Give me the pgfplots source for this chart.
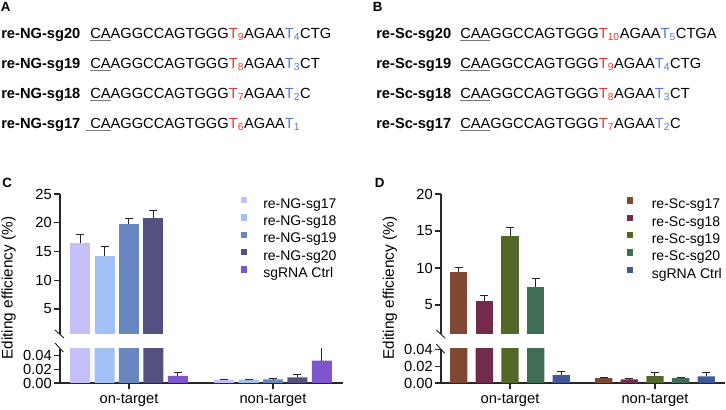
\documentclass[border=0pt]{standalone}
\usepackage{fontspec}
\setmainfont{Liberation Sans}
\usepackage{pgfplots}
\pgfplotsset{compat=1.18}
\usepackage{pgfplotstable}

\definecolor{tred}{RGB}{222,58,58}
\definecolor{tblue}{RGB}{88,120,205}
\definecolor{ulgray}{RGB}{120,120,120}
\definecolor{cA}{RGB}{197,192,247}
\definecolor{cB}{RGB}{160,192,246}
\definecolor{cC}{RGB}{104,134,191}
\definecolor{cD}{RGB}{85,80,130}
\definecolor{cE}{RGB}{125,85,205}
\definecolor{dA}{RGB}{126,72,50}
\definecolor{dB}{RGB}{116,42,76}
\definecolor{dC}{RGB}{82,103,40}
\definecolor{dD}{RGB}{62,111,86}
\definecolor{dE}{RGB}{65,87,152}

\newcommand\Tr[1]{\textcolor{tred}{T\textsubscript{#1}}}
\newcommand\Tb[1]{\textcolor{tblue}{T\textsubscript{#1}}}
\newcommand\ul[1]{\setbox0\hbox{#1}\rlap{\textcolor{ulgray}{\rule[-2.3pt]{\wd0}{1.1pt}}}\box0}

% Panel C data
\pgfplotstableread{
x y e
-0.34 16.4 1.5
0.66 0.0048 0.0010
}\Ca
\pgfplotstableread{
x y e
-0.17 14.3 1.5
0.83 0.0048 0.0010
}\Cb
\pgfplotstableread{
x y e
0.00 19.7 1.0
1.00 0.0053 0.0008
}\Cc
\pgfplotstableread{
x y e
0.17 20.8 1.4
1.17 0.0082 0.0040
}\Cd
\pgfplotstableread{
x y e
0.34 0.0106 0.0050
1.34 0.0328 0.0200
}\Ce
% Panel D data
\pgfplotstableread{
x y e
-0.354 9.46 0.65
0.646 0.0060 0.0005
}\Da
\pgfplotstableread{
x y e
-0.177 5.59 0.70
0.823 0.0044 0.0005
}\Db
\pgfplotstableread{
x y e
0.000 14.3 1.2
1.000 0.0084 0.0048
}\Dc
\pgfplotstableread{
x y e
0.177 7.48 1.1
1.177 0.0060 0.0012
}\Dd
\pgfplotstableread{
x y e
0.354 0.0096 0.0040
1.354 0.0080 0.0052
}\De

\pgfplotsset{
  cmn/.style={
    scale only axis,
    axis line style={black!85, line width=0.8pt},
    tick style={black!85, line width=0.8pt},
    tick align=outside,
    major tick length=4.5pt,
    ytick pos=left,
    scaled y ticks=false,
    tick label style={font=\fontsize{11}{13}\selectfont},
    yticklabel style={inner sep=1.5pt},
  },
  upper/.style={cmn, hide x axis, axis y line*=left, xtick=\empty, height=105pt,
    restrict y to domain=0.5:1000},
  lower/.style={cmn, axis x line*=bottom, axis y line*=left, xtick={0,1},
    xticklabels={on-target,non-target}, height=25.5pt, ymin=0,
    ytick={0,0.02,0.04}, yticklabels={0.00,0.02,0.04}},
  bars/.style 2 args={ybar, bar width=#2, bar shift=0pt, draw=none, fill=#1,
    error bars/y dir=plus, error bars/y explicit,
    error bars/error bar style={black!85, line width=0.75pt},
    error bars/error mark options={rotate=90, black!85, mark size=3pt, line width=0.75pt}},
  lgd/.style={legend style={at={#1}, anchor=north west, draw=none, fill=none,
    inner sep=0pt, outer sep=0pt, font=\fontsize{10.5}{12}\selectfont,
    row sep=2.2pt, column sep=12pt,
    nodes={inner sep=0pt, text height=7.6pt, text depth=2.4pt}},
    legend cell align=left,
    legend image code/.code={\fill[##1] (0pt,1.2pt) rectangle (4.6pt,5.8pt);}},
}

\begin{document}
\begin{tikzpicture}
\path[use as bounding box] (0,0) rectangle (544.5pt,307.5pt);

% ---------- Panel A ----------
\node[anchor=base west, inner sep=0pt, font=\fontsize{10}{12}\selectfont\bfseries] at (0.5pt,299pt) {A};
\begin{scope}[every node/.style={anchor=base west, inner sep=0pt, font=\fontsize{11}{13}\selectfont}]
\node at (0.75pt,278.8pt) {\bfseries re-NG-sg20};
\node at (67.5pt,278.8pt) {\ul{CA}AGGCCAGTGGG\Tr{9}AGAA\Tb{4}CTG};
\node at (0.75pt,256.3pt) {\bfseries re-NG-sg19};
\node at (67.5pt,256.3pt) {\ul{CA}AGGCCAGTGGG\Tr{8}AGAA\Tb{3}CT};
\node at (0.75pt,233.8pt) {\bfseries re-NG-sg18};
\node at (67.5pt,233.8pt) {\ul{CA}AGGCCAGTGGG\Tr{7}AGAA\Tb{2}C};
\node at (0.75pt,211.3pt) {\bfseries re-NG-sg17};
\node at (67.5pt,211.3pt) {\llap{\textcolor{ulgray}{\rule[-2.3pt]{3pt}{1.1pt}}}\ul{CA}AGGCCAGTGGG\Tr{6}AGAA\Tb{1}};
% ---------- Panel B ----------
\node at (282pt,278.8pt) {\bfseries re-Sc-sg20};
\node at (345pt,278.8pt) {\ul{CAA}GGCCAGTGGG\Tr{10}AGAA\Tb{5}CTGA};
\node at (282pt,256.3pt) {\bfseries re-Sc-sg19};
\node at (345pt,256.3pt) {\ul{CAA}GGCCAGTGGG\Tr{9}AGAA\Tb{4}CTG};
\node at (282pt,233.8pt) {\bfseries re-Sc-sg18};
\node at (345pt,233.8pt) {\ul{CAA}GGCCAGTGGG\Tr{8}AGAA\Tb{3}CT};
\node at (282pt,211.3pt) {\bfseries re-Sc-sg17};
\node at (345pt,211.3pt) {\ul{CAA}GGCCAGTGGG\Tr{7}AGAA\Tb{2}C};
\end{scope}
\node[anchor=base west, inner sep=0pt, font=\fontsize{10}{12}\selectfont\bfseries] at (279.5pt,299pt) {B};

% ---------- Panel C ----------
\node[anchor=base west, inner sep=0pt, font=\fontsize{10}{12}\selectfont\bfseries] at (1.5pt,166.5pt) {C};
\node[rotate=90, font=\fontsize{11.5}{13}\selectfont] at (6.5pt,91.5pt) {Editing efficiency (\%)};

\begin{axis}[upper, at={(45pt,57pt)}, anchor=south west, width=212.25pt,
  xmin=-0.479, xmax=1.486, ymin=0.65, ymax=25,
  ytick={5,10,15,20,25}, yticklabels={5,10,15,20,25},
  lgd={(0.64,0.978)}]
\addplot[bars={cA}{15pt}] table[x=x,y=y,y error=e] {\Ca};
\addlegendentry{re-NG-sg17}
\addplot[bars={cB}{15pt}] table[x=x,y=y,y error=e] {\Cb};
\addlegendentry{re-NG-sg18}
\addplot[bars={cC}{15pt}] table[x=x,y=y,y error=e] {\Cc};
\addlegendentry{re-NG-sg19}
\addplot[bars={cD}{15pt}] table[x=x,y=y,y error=e] {\Cd};
\addlegendentry{re-NG-sg20}
\addlegendimage{fill=cE, draw=none}
\addlegendentry{sgRNA Ctrl}
\end{axis}

\begin{axis}[lower, at={(45pt,20.25pt)}, anchor=south west, width=212.25pt,
  xmin=-0.479, xmax=1.486, ymax=0.05]
\addplot[bars={cA}{15pt}] table[x=x,y=y,y error=e] {\Ca};
\addplot[bars={cB}{15pt}] table[x=x,y=y,y error=e] {\Cb};
\addplot[bars={cC}{15pt}] table[x=x,y=y,y error=e] {\Cc};
\addplot[bars={cD}{15pt}] table[x=x,y=y,y error=e] {\Cd};
\addplot[bars={cE}{15pt}] table[x=x,y=y,y error=e] {\Ce};
\end{axis}
\draw[black!85, line width=0.7pt] (41.25pt,60pt) -- (48pt,54pt);
\draw[black!85, line width=0.7pt] (41.25pt,50.25pt) -- (47.5pt,43.5pt);

% ---------- Panel D ----------
\node[anchor=base west, inner sep=0pt, font=\fontsize{10}{12}\selectfont\bfseries] at (281pt,166.5pt) {D};
\node[rotate=90, font=\fontsize{11.5}{13}\selectfont] at (292.5pt,91.5pt) {Editing efficiency (\%)};

\begin{axis}[upper, at={(330.75pt,57pt)}, anchor=south west, width=213pt,
  xmin=-0.476, xmax=1.483, ymin=1.08, ymax=20,
  ytick={5,10,15,20}, yticklabels={5,10,15,20},
  lgd={(0.655,0.975)}, legend style={column sep=14pt}]
\addplot[bars={dA}{13pt}] table[x=x,y=y,y error=e] {\Da};
\addlegendentry{re-Sc-sg17}
\addplot[bars={dB}{13pt}] table[x=x,y=y,y error=e] {\Db};
\addlegendentry{re-Sc-sg18}
\addplot[bars={dC}{13pt}] table[x=x,y=y,y error=e] {\Dc};
\addlegendentry{re-Sc-sg19}
\addplot[bars={dD}{13pt}] table[x=x,y=y,y error=e] {\Dd};
\addlegendentry{re-Sc-sg20}
\addlegendimage{fill=dE, draw=none}
\addlegendentry{sgRNA Ctrl}
\end{axis}

\begin{axis}[lower, at={(330.75pt,20.25pt)}, anchor=south west, width=213pt,
  xmin=-0.476, xmax=1.483, ymax=0.041]
\addplot[bars={dA}{13pt}] table[x=x,y=y,y error=e] {\Da};
\addplot[bars={dB}{13pt}] table[x=x,y=y,y error=e] {\Db};
\addplot[bars={dC}{13pt}] table[x=x,y=y,y error=e] {\Dc};
\addplot[bars={dD}{13pt}] table[x=x,y=y,y error=e] {\Dd};
\addplot[bars={dE}{13pt}] table[x=x,y=y,y error=e] {\De};
\end{axis}
\draw[black!85, line width=0.7pt] (327.2pt,60pt) -- (334pt,53.8pt);
\draw[black!85, line width=0.7pt] (327.2pt,49.5pt) -- (333.5pt,42.5pt);
\end{tikzpicture}
\end{document}
